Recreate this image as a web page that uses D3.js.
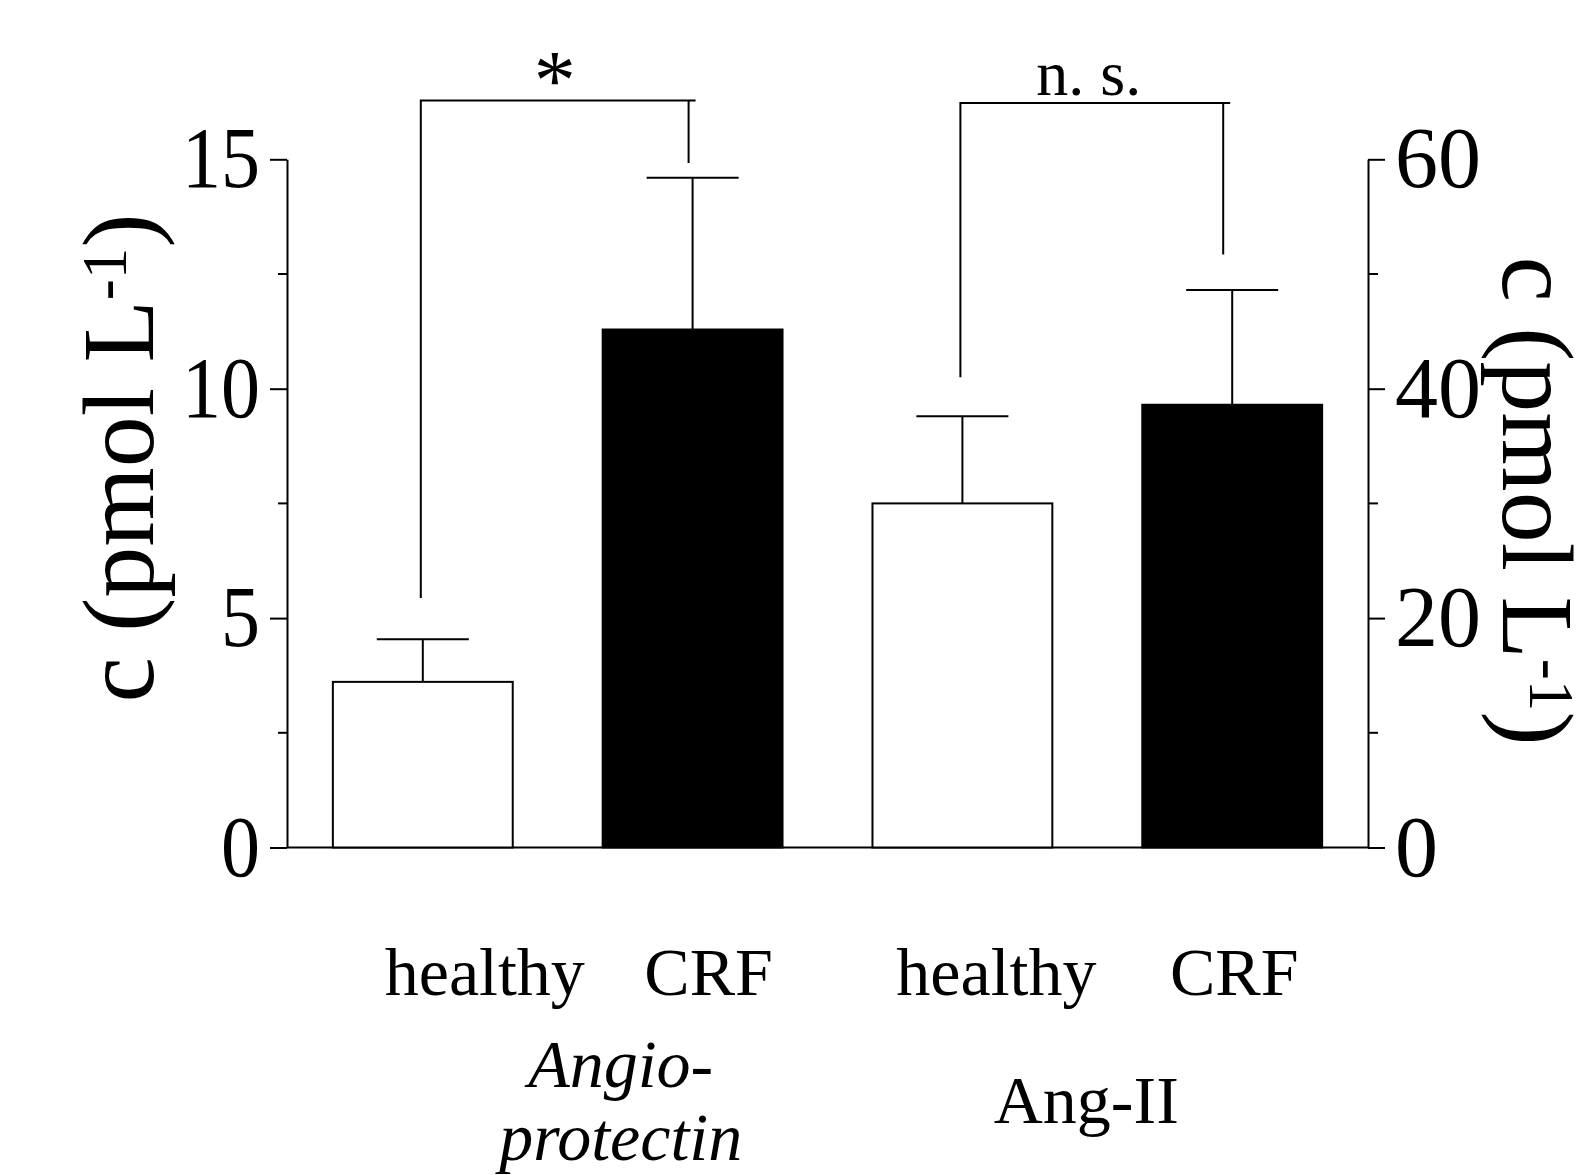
<!DOCTYPE html>
<html lang="en">
<head>
  <meta charset="UTF-8">
  <style>
body {
    margin: 0;
    background: #fff;
}
svg text {
    font-family: "Liberation Serif", "Times New Roman", serif;
    fill: #000;
}
.axis path, .axis line {
    stroke: #000;
    stroke-width: 2px;
}
  </style>
  <title>Angioprotectin / Ang-II</title>
</head>
<body>
<div id="wrapper"></div>

<script src="https://cdnjs.cloudflare.com/ajax/libs/d3/7.8.5/d3.min.js"></script>
<script>
// DATA
const barIds     = ["ap-healthy", "ap-crf", "ang-healthy", "ang-crf"]
const conditions = ["healthy", "CRF", "healthy", "CRF"]
const barAxis    = ["left", "left", "right", "right"]
const means      = [3.61, 11.29, 30.0, 38.6]
const sems       = [0.93, 3.31, 7.6, 10.0]
const groupLines = [["Angio-", "protectin"], ["Ang-II"]]
const groupItalic = [true, false]

const leftTicks   = [0, 5, 10, 15]
const leftMinor   = [2.5, 7.5, 12.5]
const rightTicks  = [0, 20, 40, 60]
const rightMinor  = [10, 30, 50]

// significance brackets (values in the units of their axis)
const sigFrom   = [0, 2]
const sigTo     = [1, 3]
const sigAxis   = ["left", "right"]
const sigLeftEnd  = [5.44, 41.0]
const sigRightEnd = [14.92, 51.7]
const sigTop      = [16.28, 64.9]
const sigText     = ["*", "n. s."]

function draw() {
  const width = 1586, height = 1175
  const plot = {left: 287, right: 1368, top: 159.3, bottom: 847.5}

  const svg = d3.select("#wrapper").append("svg")
    .attr("width", width)
    .attr("height", height)

  const x = d3.scaleBand()
    .domain(barIds)
    .range([plot.left, plot.right])
    .paddingInner(1 / 3)
    .paddingOuter(0.17)

  const yL = d3.scaleLinear().domain([0, 15]).range([plot.bottom, plot.top])
  const yR = d3.scaleLinear().domain([0, 60]).range([plot.bottom, plot.top])
  const yOf = side => side === "left" ? yL : yR

  // axes
  const gL = svg.append("g").attr("class", "axis")
    .attr("transform", `translate(${plot.left},0)`)
    .call(d3.axisLeft(yL).tickValues(leftTicks).tickSize(17).tickSizeOuter(0).tickPadding(10))
  gL.append("g").selectAll("line").data(leftMinor).join("line")
    .attr("x1", -9).attr("x2", 0)
    .attr("y1", d => yL(d)).attr("y2", d => yL(d))

  const gR = svg.append("g").attr("class", "axis")
    .attr("transform", `translate(${plot.right},0)`)
    .call(d3.axisRight(yR).tickValues(rightTicks).tickSize(17).tickSizeOuter(0).tickPadding(10))
  gR.append("g").selectAll("line").data(rightMinor).join("line")
    .attr("x1", 0).attr("x2", 10)
    .attr("y1", d => yR(d)).attr("y2", d => yR(d))

  svg.selectAll(".axis text")
    .style("font-family", '"Liberation Serif", serif')
    .style("font-size", "86px")

  // left numbers look a bit narrower in the original
  gL.selectAll(".tick text")
    .attr("textLength", d => String(d).length * 39)
    .attr("lengthAdjust", "spacingAndGlyphs")

  svg.append("line")
    .attr("x1", plot.left).attr("x2", plot.right)
    .attr("y1", plot.bottom).attr("y2", plot.bottom)
    .attr("stroke", "#000").attr("stroke-width", 2)

  // bars
  const bars = barIds.map((id, i) => ({id, cond: conditions[i], side: barAxis[i], mean: means[i], sem: sems[i]}))

  svg.append("g").selectAll("rect").data(bars).join("rect")
    .attr("x", d => x(d.id))
    .attr("y", d => yOf(d.side)(d.mean))
    .attr("width", x.bandwidth())
    .attr("height", d => plot.bottom - yOf(d.side)(d.mean))
    .attr("fill", d => d.cond === "CRF" ? "#000" : "#fff")
    .attr("stroke", "#000")
    .attr("stroke-width", 2)

  // error bars (upper only)
  const capHalf = 46
  const eb = svg.append("g").attr("stroke", "#000").attr("stroke-width", 2)
  bars.forEach(d => {
    const cx = x(d.id) + x.bandwidth() / 2
    const y = yOf(d.side)
    eb.append("line").attr("x1", cx).attr("x2", cx)
      .attr("y1", y(d.mean)).attr("y2", y(d.mean + d.sem))
    eb.append("line").attr("x1", cx - capHalf).attr("x2", cx + capHalf)
      .attr("y1", y(d.mean + d.sem)).attr("y2", y(d.mean + d.sem))
  })

  // significance brackets
  const legShift = [[-2, -4], [-2, -9]]
  const br = svg.append("g")
  sigText.forEach((t, i) => {
    const y = yOf(sigAxis[i])
    const xa = x(barIds[sigFrom[i]]) + x.bandwidth() / 2 + legShift[i][0]
    const xb = x(barIds[sigTo[i]]) + x.bandwidth() / 2 + legShift[i][1]
    const yt = y(sigTop[i])
    br.append("path")
      .attr("d", `M${xa},${y(sigLeftEnd[i])}V${yt}H${xb + 7}M${xb},${yt}V${y(sigRightEnd[i])}`)
      .attr("fill", "none").attr("stroke", "#000").attr("stroke-width", 2)
    br.append("text")
      .attr("x", (xa + xb) / 2 - (t === "*" ? 0 : 3))
      .attr("y", t === "*" ? yt + 8 : yt - 8)
      .attr("text-anchor", "middle")
      .style("font-size", t === "*" ? "84px" : "64px")
      .text(t)
  })

  // category labels
  const labelShift = [62, 16, 34, 2]
  svg.append("g").selectAll("text").data(bars).join("text")
    .attr("x", (d, i) => x(d.id) + x.bandwidth() / 2 + labelShift[i])
    .attr("y", 995)
    .attr("text-anchor", "middle")
    .style("font-size", "68px")
    .text(d => d.cond)

  // group labels
  const groupShift = [63, -11]
  const groupY = [[1087, 1160], [1123]]
  groupLines.forEach((lines, g) => {
    const c = (x(barIds[g * 2]) + x(barIds[g * 2 + 1]) + x.bandwidth()) / 2 + groupShift[g]
    lines.forEach((ln, k) => {
      svg.append("text")
        .attr("x", c).attr("y", groupY[g][k])
        .attr("text-anchor", "middle")
        .style("font-size", "68px")
        .style("font-style", groupItalic[g] ? "italic" : "normal")
        .text(ln)
    })
  })

  // axis titles
  function unitTitle(sel) {
    sel.append("tspan").text("c (pmol L")
    sel.append("tspan").attr("dy", "-0.42em").style("font-size", "62%").text("-1")
    sel.append("tspan").attr("dy", "0.26em").text(")")
  }
  svg.append("text")
    .attr("transform", `translate(153,458) rotate(-90)`)
    .attr("text-anchor", "middle")
    .style("font-size", "102px")
    .call(unitTitle)

  svg.append("text")
    .attr("transform", `translate(1503,501) rotate(90)`)
    .attr("text-anchor", "middle")
    .style("font-size", "102px")
    .call(unitTitle)
}
draw()
</script>
</body>
</html>
